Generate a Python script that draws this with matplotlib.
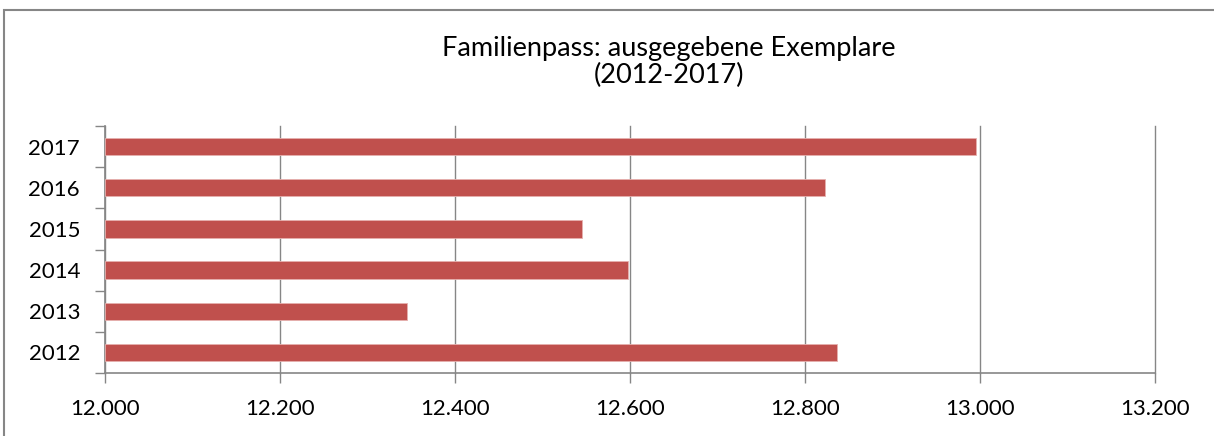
import matplotlib

matplotlib.use("Agg")
import matplotlib.pyplot as plt
from matplotlib.patches import Rectangle

years = ["2012", "2013", "2014", "2015", "2016", "2017"]
exemplare = [12837, 12345, 12598, 12545, 12823, 12995]
x_ticks = [12000, 12200, 12400, 12600, 12800, 13000, 13200]
x_labels = ["12.000", "12.200", "12.400", "12.600", "12.800", "13.000", "13.200"]

W, H = 1214, 436
GRID = "#868686"

plt.rcParams["font.family"] = ["Lato", "DejaVu Sans"]

fig = plt.figure(figsize=(W / 100, H / 100), dpi=100)
fig.patches.append(Rectangle((4 / W, -0.1), 1.2, 1 - 10 / H + 0.1, transform=fig.transFigure,
                             fill=False, edgecolor=GRID, linewidth=1.5))

ax = fig.add_axes([105 / W, 1 - 373 / H, (1155 - 105) / W, (373 - 126) / H])
pos = list(range(len(years)))
ax.barh(pos, [v - x_ticks[0] for v in exemplare], left=x_ticks[0], height=0.42,
        color="#C0504D", edgecolor="#E6B0AE", linewidth=0.6, zorder=3)

ax.set_xlim(x_ticks[0], x_ticks[-1])
ax.set_ylim(-0.5, len(years) - 0.5)
ax.set_xticks(x_ticks)
ax.set_xticklabels(x_labels, fontsize=16)
ax.set_yticks([p - 0.5 for p in pos] + [len(years) - 0.5])
ax.set_yticklabels([])
ax.set_yticks(pos, minor=True)
ax.set_yticklabels(years, minor=True, fontsize=16)
ax.tick_params(axis="y", which="major", length=7, color=GRID, width=1)
ax.tick_params(axis="y", which="minor", length=0, pad=18)
ax.tick_params(axis="x", length=7, color=GRID, width=1, pad=12)
ax.grid(axis="x", color=GRID, linewidth=1, zorder=0)
for line in ax.get_xgridlines():
    line.set_clip_on(False)
for side in ("top", "right"):
    ax.spines[side].set_visible(False)
for side in ("left", "bottom"):
    ax.spines[side].set_color(GRID)
    ax.spines[side].set_linewidth(1.2)

fig.text(669 / W, 1 - 62 / H, "Familienpass: ausgegebene Exemplare\n(2012-2017)",
         ha="center", va="center", fontsize=19.5, linespacing=1.1)

fig.savefig("out.png", dpi=100)
